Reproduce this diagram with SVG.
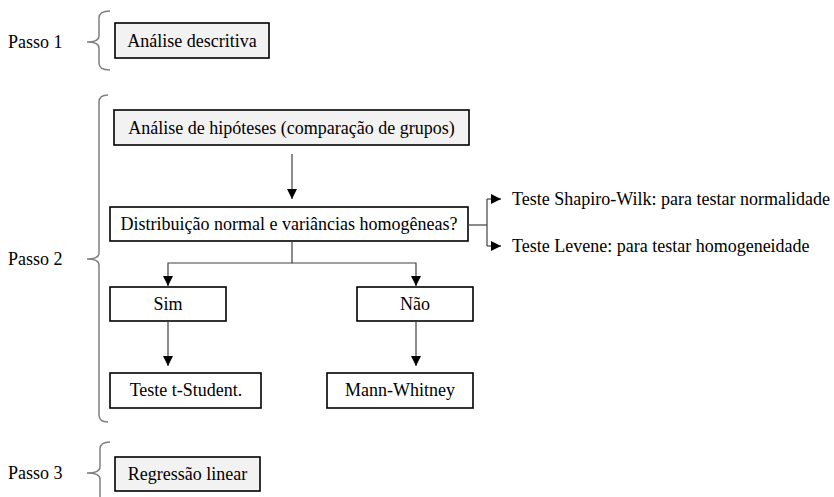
<svg xmlns="http://www.w3.org/2000/svg" width="834" height="497" viewBox="0 0 834 497">
  <defs>
    <marker id="arrow" viewBox="0 0 10 10" refX="10" refY="5" markerWidth="10" markerHeight="10" markerUnits="userSpaceOnUse" orient="auto">
      <path d="M0,0 L10,5 L0,10 Z" fill="#000"/>
    </marker>
    <style>
      text { font-family: "Liberation Serif", "Times New Roman", serif; font-size: 18px; fill: #000; }
      .mid { text-anchor: middle; }
      .box { fill: #fff; stroke: #000; stroke-width: 1.6; }
      .box.shade { fill: #f2f2f2; }
      .brace { fill: none; stroke: #808080; stroke-width: 1.5; }
      .link { fill: none; stroke: #404040; stroke-width: 1.2; }
    </style>
  </defs>
  <rect width="834" height="497" fill="#fff"/>

  <!-- step labels and braces -->
  <g id="step1">
    <text x="8" y="48">Passo 1</text>
    <path class="brace" d="M110,11 Q99,11 99,18 L99,36 Q99,42 87,42 Q99,42 99,48 L99,63 Q99,70 110,70"/>
  </g>
  <g id="step2">
    <text x="8" y="265">Passo 2</text>
    <path class="brace" d="M108,95 Q99,95 99,102 L99,253 Q99,259 87,259 Q99,259 99,265 L99,415 Q99,422 108,422"/>
  </g>
  <g id="step3">
    <text x="8" y="479">Passo 3</text>
    <path class="brace" d="M110,442 Q100,442 100,449 L100,467 Q100,473 87,473 Q100,473 100,479 L100,500 Q100,507 110,507"/>
  </g>

  <!-- nodes -->
  <g id="n-descritiva">
    <rect class="box shade" x="115" y="23" width="154" height="35"/>
    <text class="mid" x="192" y="47">Análise descritiva</text>
  </g>
  <g id="n-hipoteses">
    <rect class="box shade" x="114" y="110" width="355" height="35"/>
    <text class="mid" x="291.5" y="134">Análise de hipóteses (comparação de grupos)</text>
  </g>
  <g id="n-distribuicao">
    <rect class="box" x="110" y="207" width="358" height="34"/>
    <text class="mid" x="289" y="230">Distribuição normal e variâncias homogêneas?</text>
  </g>
  <g id="n-sim">
    <rect class="box" x="110" y="287" width="116" height="34"/>
    <text class="mid" x="168" y="310">Sim</text>
  </g>
  <g id="n-nao">
    <rect class="box" x="357" y="287" width="116" height="34"/>
    <text class="mid" x="415" y="310">Não</text>
  </g>
  <g id="n-tstudent">
    <rect class="box" x="110" y="373" width="151" height="35"/>
    <text class="mid" x="186" y="396">Teste t-Student.</text>
  </g>
  <g id="n-mann">
    <rect class="box" x="327" y="373" width="146" height="35"/>
    <text class="mid" x="400" y="396">Mann-Whitney</text>
  </g>
  <g id="n-regressao">
    <rect class="box shade" x="115" y="457" width="145" height="34"/>
    <text class="mid" x="187.5" y="480">Regressão linear</text>
  </g>
  <g id="n-shapiro">
    <text x="512" y="205">Teste Shapiro-Wilk: para testar normalidade</text>
  </g>
  <g id="n-levene">
    <text x="512" y="252">Teste Levene: para testar homogeneidade</text>
  </g>

  <!-- connectors -->
  <g id="connectors">
    <path class="link" d="M292,154 L292,199" marker-end="url(#arrow)"/>
    <path class="link" d="M292,241 L292,263 L168,263 L168,286" marker-end="url(#arrow)"/>
    <path class="link" d="M292,263 L416,263 L416,286" marker-end="url(#arrow)"/>
    <path class="link" d="M168,321 L168,366" marker-end="url(#arrow)"/>
    <path class="link" d="M416,321 L416,366" marker-end="url(#arrow)"/>
    <path class="link" d="M468,225 L487,225"/>
    <path class="link" d="M487,199 L487,246"/>
    <path class="link" d="M487,199 L501,199" marker-end="url(#arrow)"/>
    <path class="link" d="M487,246 L501,246" marker-end="url(#arrow)"/>
  </g>
</svg>
